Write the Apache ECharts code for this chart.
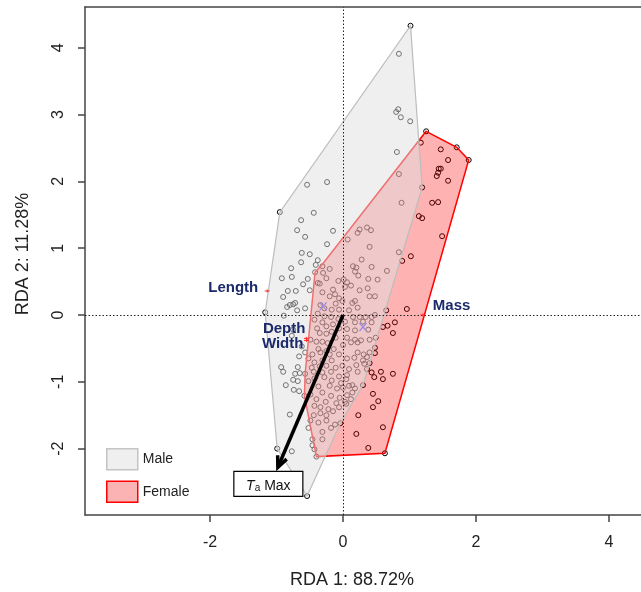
<!DOCTYPE html>
<html><head><meta charset="utf-8">
<script src="https://cdn.jsdelivr.net/npm/echarts@6/dist/echarts.min.js"></script>
<style>html,body{margin:0;padding:0;background:#fff}#c{width:641px;height:592px}</style>
</head><body><div id="c"></div>
<script>
// ---------- data ----------
const xTicks = [-2, 0, 2, 4];
const yTicks = [-2, -1, 0, 1, 2, 3, 4];
const xTitle = 'RDA 1: 88.72%';
const yTitle = 'RDA 2: 11.28%';
const groupNames = ['Male', 'Female'];

const sitesMaleSide = [
  [1.015,4.33],[0.84,3.91],[0.83,3.08],[0.80,3.04],[0.87,2.96],[1.01,2.90],[0.81,2.44],[0.84,2.11],[1.19,1.91],[0.88,1.68],
  [-0.54,1.95],[-0.24,1.99],
  [-0.95,1.54],[-0.44,1.53],[-0.63,1.42],[-0.69,1.27],[-0.57,1.17],[-0.15,1.26],[-0.24,1.06],[-0.62,0.93],[-0.50,0.91],
  [-0.63,0.79],[-0.38,0.82],[-0.41,0.75],[-0.78,0.70],[-0.42,0.64],[-0.77,0.57],[-0.92,0.55],[-0.53,0.54],[-0.60,0.46],
  [-0.38,0.48],[-0.35,0.47],[-0.83,0.36],[-0.71,0.36],[-0.50,0.37],[-0.90,0.27],
  [-1.17,0.04],[-0.84,0.12],[-0.80,0.15],[-0.75,0.16],[-0.72,0.18],[-0.89,-0.01],[-0.69,0.07],[-0.57,0.10],[-0.75,-0.22],
  [-0.77,-0.31],[-0.62,-0.47],[-0.57,-0.56],[-0.66,-0.62],
  [-0.93,-0.78],[-0.68,-0.78],[-0.90,-0.85],[-0.72,-0.88],[-0.65,-0.87],[-0.86,-1.05],[-0.75,-0.97],[-0.68,-0.99],
  [-0.74,-1.12],[-0.66,-1.14],[-0.80,-1.49],[-0.99,-2.00],[-0.77,-2.04],[-0.54,-2.71],[-0.46,-1.95]
];
const sitesCentral = [
  [0.25,1.28],[0.22,1.23],[0.36,1.31],[0.42,1.27],[0.07,1.13],[0.40,1.02],
  [0.28,0.83],[0.15,0.73],[0.20,0.71],[0.23,0.59],[0.18,0.65],
  [-0.31,0.73],[-0.20,0.69],[0.01,0.53],[0.12,0.44],[0.06,0.49],
  [0.43,0.72],[0.66,0.66],[0.52,0.53],[0.84,0.94],[0.38,0.54],[0.48,0.28],
  [-0.30,0.63],[-0.25,0.55],[-0.07,0.51],
  [-0.15,0.38],[-0.12,0.31],[-0.31,0.34],[-0.20,0.28],[-0.06,0.25],[0.03,0.42],
  [0.25,0.37],[0.37,0.40],[0.40,0.28],[0.18,0.21],
  [-0.11,0.17],[-0.01,0.21],[0.14,0.18],
  [-0.17,0.08],[-0.06,0.08],[0.09,0.07],[0.22,0.11],[0.65,0.07],
  [-0.34,0.15],[-0.28,0.10],[-0.38,0.02],
  [-0.28,-0.02],[-0.18,-0.03],[-0.07,-0.06],
  [0.15,-0.03],[0.25,-0.03],[0.34,-0.03],[0.43,-0.03],[0.48,0.00],
  [0.03,-0.10],[0.18,-0.11],[0.30,-0.10],[0.43,-0.11],
  [-0.31,-0.11],[-0.25,-0.17],[-0.15,-0.14],[-0.43,-0.07],[-0.39,-0.20],
  [-0.06,-0.20],[0.06,-0.21],[0.18,-0.23],[0.38,-0.22],
  [-0.35,-0.27],[-0.25,-0.28],[-0.17,-0.25],
  [-0.11,-0.34],[0.06,-0.34],[0.18,-0.37],[0.40,-0.37],[0.49,-0.34],
  [-0.49,-0.37],[-0.40,-0.40],[-0.31,-0.40],
  [-0.23,-0.42],[0.12,-0.41],[0.22,-0.41],[0.27,-0.38],
  [-0.37,-0.51],[-0.25,-0.54],[-0.14,-0.51],[0.00,-0.45],
  [-0.46,-0.59],[-0.34,-0.56],[-0.20,-0.59],[-0.06,-0.59],[0.22,-0.56],[0.31,-0.59],[0.40,-0.56],[0.48,-0.49],
  [-0.52,-0.65],[-0.43,-0.71],[-0.31,-0.68],[-0.17,-0.68],[0.06,-0.65],[0.17,-0.64],[0.30,-0.68],[0.36,-0.63],
  [-0.47,-0.79],[-0.35,-0.77],[-0.25,-0.76],[-0.11,-0.79],[-0.01,-0.76],[0.09,-0.81],[0.20,-0.75],[0.32,-0.73],[0.40,-0.72],
  [-0.57,-0.88],[-0.44,-0.85],[-0.31,-0.86],[-0.18,-0.85],[-0.06,-0.92],[0.06,-0.90],[0.22,-0.85],[0.36,-0.81],[0.43,-0.86],
  [-0.52,-0.99],[-0.43,-0.95],[-0.28,-0.93],[-0.17,-0.98],[-0.03,-1.02],[0.05,-0.96],[0.14,-1.05],[0.30,-1.05],
  [-0.37,-1.07],[-0.20,-1.06],[-0.09,-1.10],[0.00,-1.09],[0.09,-1.06],[0.18,-1.10],
  [-0.58,-1.21],[-0.49,-1.19],[-0.31,-1.16],[-0.18,-1.21],[-0.05,-1.24],[0.06,-1.20],[0.14,-1.16],
  [-0.40,-1.26],[-0.26,-1.30],[-0.10,-1.32],[0.03,-1.30],[0.12,-1.26],
  [-0.43,-1.36],[-0.34,-1.38],[-0.22,-1.41],[-0.06,-1.38],[0.05,-1.33],
  [-0.44,-1.50],[-0.34,-1.47],[-0.25,-1.50],[-0.15,-1.44],[-0.04,-1.62],
  [-0.49,-1.58],[-0.37,-1.61],[-0.25,-1.58],[-0.12,-1.64],
  [-0.52,-1.69],[-0.31,-1.75],[-0.18,-1.69],
  [-0.46,-1.86],[-0.31,-1.86],[-0.43,-2.01],[-0.40,-2.12]
];
const sitesFemaleSide = [
  [1.25,2.75],[1.17,2.58],[1.47,2.48],[1.71,2.51],[1.89,2.32],[1.58,2.32],[1.44,2.19],[1.47,2.19],[1.41,2.08],[1.43,2.13],
  [1.58,2.01],[1.34,1.68],[1.43,1.69],[1.14,1.48],[1.19,1.45],[1.49,1.18],[1.02,0.88],[0.89,0.81],[0.96,0.09],
  [0.78,-0.11],[0.60,-0.18],[0.67,-0.16],[0.75,-0.27],[0.48,-0.57],[0.57,-0.85],[0.75,-0.88],[0.47,-0.93],[0.60,-0.96],
  [0.45,-1.18],[0.53,-1.29],[0.45,-1.38],[0.23,-1.50],[0.60,-1.68],[0.20,-1.78],[0.38,-1.99],[0.63,-2.07]
];

const maleHull = [[1.015,4.33],[1.19,1.91],[0.30,-1.05],[-0.04,-1.62],[-0.54,-2.71],[-0.99,-2.00],[-1.17,0.04],[-0.95,1.54]];
const femaleHull = [[1.25,2.75],[1.71,2.51],[1.89,2.32],[0.63,-2.07],[-0.40,-2.12],[-0.58,-1.21],[-0.57,-0.88],[-0.42,0.64],[-0.31,0.76]];

const centroids = [[-0.30,0.13],[0.30,-0.18]];

const speciesNames = ['Length','Mass','Depth','Width'];
const speciesScores = [[-1.14,0.36],[1.20,0.00],[-0.55,-0.35],[-0.55,-0.38]];

const envNames = ['Ta Max'];
const envArrows = [[-0.98,-2.28]];

// ---------- styles ----------
const FONT = "'Liberation Sans', Arial, sans-serif";
const AXIS_COLOR = '#444';
const X_MIN = -3.88, X_MAX = 4.481, Y_MIN = -2.994, Y_MAX = 4.611;
const labelPlacement = {
  Length: {align:'right', dx:-9, dy:-3},
  Mass:   {align:'left',  dx:10, dy:-9},
  Depth:  {align:'right', dx:-1, dy:-10},
  Width:  {align:'right', dx:-3, dy:3}
};

const chart = echarts.init(document.getElementById('c'), null, {renderer:'canvas'});

function hullSeries(name, pts, fill, stroke, lw, z){
  return {
    type:'custom', name, z, silent:true, clip:true,
    data: pts, encode:{x:0,y:1},
    renderItem(params, api){
      if (params.dataIndex !== 0) return null;
      const points = pts.map(p => api.coord(p));
      return {type:'polygon', shape:{points}, style:{fill, stroke, lineWidth:lw}};
    }
  };
}

const allSites = sitesMaleSide.concat(sitesCentral, sitesFemaleSide);

chart.setOption({
  animation:false,
  backgroundColor:'#fff',
  grid:{left:85, top:7, right:0, bottom:77, show:false},
  xAxis:[{
    type:'value', min:X_MIN, max:X_MAX, position:'bottom',
    axisLine:{show:true, onZero:false, lineStyle:{color:AXIS_COLOR, width:1.5}}, splitLine:{show:false},
    axisTick:{show:true, customValues:xTicks, length:7, lineStyle:{color:AXIS_COLOR, width:1.5}},
    axisLabel:{customValues:xTicks, fontSize:16, color:'#222', margin:20, fontFamily:FONT}
  },{
    type:'value', min:X_MIN, max:X_MAX, position:'top',
    axisLine:{show:true, onZero:false, lineStyle:{color:AXIS_COLOR, width:1.5}}, splitLine:{show:false},
    axisTick:{show:false}, axisLabel:{show:false}
  }],
  yAxis:{
    type:'value', min:Y_MIN, max:Y_MAX,
    axisLine:{show:true, onZero:false, lineStyle:{color:AXIS_COLOR, width:1.5}}, splitLine:{show:false},
    axisTick:{show:true, customValues:yTicks, length:7, lineStyle:{color:AXIS_COLOR, width:1.5}},
    axisLabel:{customValues:yTicks, fontSize:16, color:'#222', margin:18, rotate:90, fontFamily:FONT}
  },
  legend:{
    orient:'vertical', left:106, top:448, padding:0, itemWidth:31, itemHeight:21, itemGap:10,
    icon:'rect', selectedMode:false,
    textStyle:{fontSize:14, color:'#222', fontFamily:FONT},
    data:[
      {name:groupNames[0], itemStyle:{color:'#efefef', borderColor:'#c4c4c4', borderWidth:1.5}},
      {name:groupNames[1], itemStyle:{color:'#fbb3b3', borderColor:'#ff0000', borderWidth:1.5}}
    ]
  },
  graphic:[
    {type:'text', x:352, y:580, style:{text:xTitle, fontSize:18, fontFamily:FONT, fill:'#222', align:'center', verticalAlign:'middle'}},
    {type:'text', x:23, y:254, rotation:Math.PI/2, style:{text:yTitle, fontSize:18, fontFamily:FONT, fill:'#222', align:'center', verticalAlign:'middle'}}
  ],
  series:[
    {
      type:'scatter', name:'sites', z:2, silent:true,
      data: allSites, symbol:'circle', symbolSize:5,
      itemStyle:{color:'rgba(0,0,0,0)', borderColor:'#000', borderWidth:1, opacity:1},
      markLine:{
        silent:true, symbol:'none', animation:false,
        label:{show:false},
        lineStyle:{type:[1.5,2], color:'#222', width:1},
        data:[{xAxis:0},{yAxis:0}]
      }
    },
    hullSeries(groupNames[1], femaleHull, 'rgba(255,0,0,0.3)', '#ff0000', 1.5, 3),
    hullSeries(groupNames[0], maleHull, 'rgba(223,223,223,0.5)', '#bdbdbd', 1.2, 4),
    {
      type:'custom', name:'centroids', z:5, silent:true, data:centroids, encode:{x:0,y:1},
      renderItem(params, api){
        const p = api.coord([api.value(0), api.value(1)]);
        const s = 3.5;
        const st = {stroke:'#9C8AE2', lineWidth:1.3};
        return {type:'group', children:[
          {type:'line', shape:{x1:p[0]-s, y1:p[1]-s-0.5, x2:p[0]+s, y2:p[1]+s+0.5}, style:st},
          {type:'line', shape:{x1:p[0]+s, y1:p[1]-s-0.5, x2:p[0]-s, y2:p[1]+s+0.5}, style:st}
        ]};
      }
    },
    {
      type:'custom', name:'species', z:6, silent:true, data:speciesScores, encode:{x:0,y:1},
      renderItem(params, api){
        const p = api.coord([api.value(0), api.value(1)]);
        const nm = speciesNames[params.dataIndex];
        const lp = labelPlacement[nm];
        const st = {stroke:'#ff2a2a', lineWidth:1};
        return {type:'group', children:[
          {type:'line', shape:{x1:p[0]-2.5, y1:p[1], x2:p[0]+2.5, y2:p[1]}, style:st},
          {type:'line', shape:{x1:p[0], y1:p[1]-1.5, x2:p[0], y2:p[1]+1.5}, style:st},
          {type:'text', x:p[0]+lp.dx, y:p[1]+lp.dy, style:{text:nm, fontSize:15, fontWeight:'bold', fontFamily:FONT, fill:'#1B2A6B', align:lp.align, verticalAlign:'middle'}}
        ]};
      }
    },
    {
      type:'custom', name:'env', z:7, silent:true, data:envArrows, encode:{x:0,y:1},
      renderItem(params, api){
        const p0 = api.coord([0,0]);
        const p1 = api.coord([api.value(0), api.value(1)]);
        const ang = Math.atan2(p1[1]-p0[1], p1[0]-p0[0]);
        const L = 12, a = 0.42;
        const h1 = [p1[0]-L*Math.cos(ang-a), p1[1]-L*Math.sin(ang-a)];
        const h2 = [p1[0]-L*Math.cos(ang+a), p1[1]-L*Math.sin(ang+a)];
        const cx = p1[0]-9.5, cy = p1[1]+16.5;
        const nm = envNames[params.dataIndex];
        const richText = '{i|' + nm.charAt(0) + '}{s|' + nm.charAt(1) + '}{n|' + nm.slice(2) + '}';
        return {type:'group', children:[
          {type:'line', shape:{x1:p0[0], y1:p0[1], x2:p1[0]-3*Math.cos(ang), y2:p1[1]-3*Math.sin(ang)}, style:{stroke:'#000', lineWidth:3.5}},
          {type:'polyline', shape:{points:[h1, p1, h2]}, style:{stroke:'#000', lineWidth:3.5, fill:null}},
          {type:'rect', shape:{x:cx-34.5, y:cy-12.5, width:69, height:25}, style:{fill:'#fff', stroke:'#000', lineWidth:1.2}},
          {type:'text', x:cx, y:cy, style:{
            text:richText, align:'center', verticalAlign:'middle', fill:'#111',
            rich:{
              i:{fontSize:14, fontStyle:'italic', fontFamily:FONT, fill:'#111', lineHeight:18, verticalAlign:'bottom'},
              s:{fontSize:10, fontFamily:FONT, fill:'#111', lineHeight:10, verticalAlign:'bottom'},
              n:{fontSize:14, fontFamily:FONT, fill:'#111', lineHeight:18, verticalAlign:'bottom'}
            }
          }}
        ]};
      }
    }
  ]
});
</script>
</body></html>
